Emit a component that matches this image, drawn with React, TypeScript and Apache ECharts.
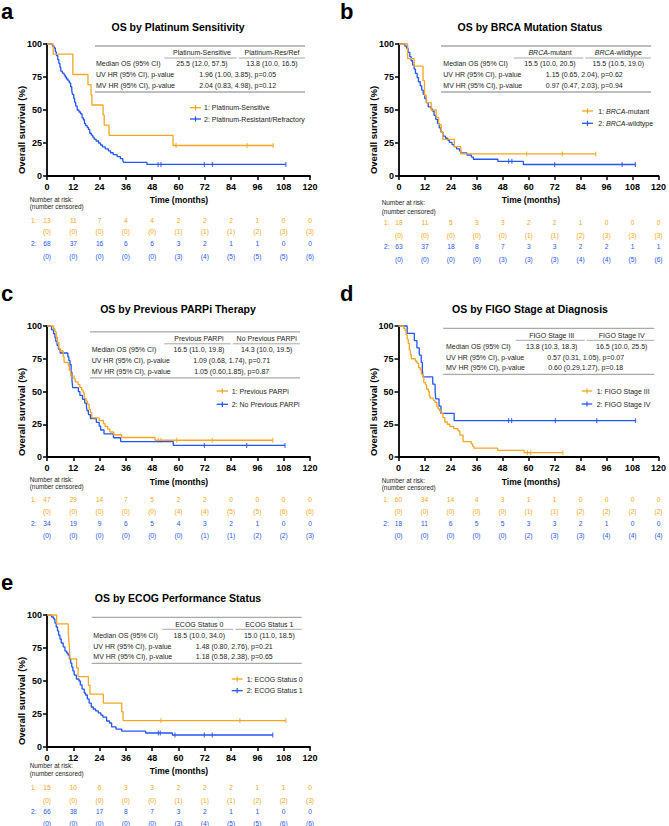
import React, { useEffect, useRef } from 'react';
import * as echarts from 'echarts';

const ORANGE = '#F6A623';
const BLUE = '#2356F6';
const FONT = "'Liberation Sans', Arial, Helvetica, sans-serif";
const TXT = '#1c1c1c';

type Step = [number, number];

const timeTicks = [0, 12, 24, 36, 48, 60, 72, 84, 96, 108, 120];
const rowLabels = ['Median OS (95% CI)', 'UV HR (95% CI), p-value', 'MV HR (95% CI), p-value'];

// ---------- Panel a ----------
const aTitle = 'OS by Platinum Sensitivity';
const aLegend = ['1: Platinum-Sensitive', '2: Platinum-Resistant/Refractory'];
const aHeaders = ['Platinum-Sensitive', 'Platinum-Res/Ref'];
const aMedian = ['25.5 (12.0, 57.5)', '13.8 (10.0, 16.5)'];
const aUV = '1.96 (1.00, 3.85), p=0.05';
const aMV = '2.04 (0.83, 4.98), p=0.12';
const aSteps1: Step[] = [[0, 100], [2.8, 92.3], [11.8, 76.9], [18.7, 69.2], [20.1, 61.5], [20.5, 53.8], [25.6, 46.2], [26.1, 38.5], [28.3, 30.8], [57.5, 23.1]];
const aEnd1 = 103.2;
const aCens1 = [58.9, 91.3, 103.2];
const aSteps2: Step[] = [[0, 100], [2.5, 98.5], [3.2, 97], [3.8, 94.1], [4.3, 91.2], [4.9, 88.2], [5.4, 85.3], [5.9, 82.4], [6.3, 79.4], [7, 77.9], [7.8, 76.5], [8.3, 75], [8.9, 73.5], [9.6, 72.1], [10.2, 70.6], [10.8, 67.6], [11.3, 64.7], [11.6, 61.8], [12.2, 58.8], [12.6, 55.9], [13.1, 52.9], [13.8, 50], [14.6, 48.5], [15.3, 47.1], [16, 44.1], [16.6, 42.6], [17.1, 39.7], [17.6, 38.2], [18.3, 36.8], [18.9, 35.3], [19.5, 32.4], [20.2, 30.9], [20.9, 29.4], [21.5, 27.9], [22.4, 26.5], [23.5, 25], [24.4, 23.5], [25.3, 22.1], [26.6, 20.6], [28, 19.1], [29, 17.6], [30.2, 16.2], [32, 14.7], [33.5, 13.2], [34.6, 11.8], [34.9, 10.3], [45.6, 8.8]];
const aEnd2 = 109;
const aCens2 = [50.7, 52, 71.8, 75.5, 109];
const aRisk1 = [13, 11, 7, 4, 4, 2, 2, 2, 1, 0, 0];
const aCensN1 = [0, 0, 0, 0, 0, 1, 1, 1, 2, 3, 3];
const aRisk2 = [68, 37, 16, 6, 6, 3, 2, 1, 1, 0, 0];
const aCensN2 = [0, 0, 0, 0, 0, 3, 4, 5, 5, 5, 6];

// ---------- Panel b ----------
const bTitle = 'OS by BRCA Mutation Status';
const bLegend = ['1: {i|BRCA}-mutant', '2: {i|BRCA}-wildtype'];
const bHeaders = ['{i|BRCA}-mutant', '{i|BRCA}-wildtype'];
const bMedian = ['15.5 (10.0, 20.5)', '15.5 (10.5, 19.0)'];
const bUV = '1.15 (0.65, 2.04), p=0.62';
const bMV = '0.97 (0.47, 2.03), p=0.94';
const bSteps1: Step[] = [[0, 100], [4, 88.9], [7, 83.3], [11.1, 72.2], [11.8, 61.1], [12.6, 55.6], [14.9, 50], [17.2, 44.4], [18.3, 38.9], [19.5, 33.3], [20.2, 27.8], [25.6, 22.2], [28.6, 16.7]];
const bEnd1 = 91;
const bCens1 = [59, 75.5, 91];
const bSteps2: Step[] = [[0, 100], [2.7, 98.4], [3.5, 96.8], [4.2, 93.7], [5, 90.5], [5.6, 87.3], [6.3, 84.1], [7, 81], [7.6, 77.8], [8.4, 74.6], [9, 71.4], [9.8, 68.3], [10.5, 65.1], [11.2, 61.9], [11.9, 58.7], [12.7, 55.6], [13.5, 52.4], [14.8, 50.8], [15.5, 49.2], [16.2, 46], [17, 42.9], [17.8, 39.7], [18.6, 36.5], [19.4, 33.3], [20.3, 30.2], [21.5, 28.6], [22.6, 27], [23.3, 25.4], [24.5, 23.8], [25.5, 22.2], [26.6, 20.6], [28, 19], [28.6, 17.5], [31.4, 15.9], [33.5, 14.3], [34.4, 12.7], [45.7, 11.1], [57.5, 8.7]];
const bEnd2 = 109.3;
const bCens2 = [50.7, 52.2, 72, 103.2, 109.3];
const bRisk1 = [18, 11, 5, 3, 3, 2, 2, 1, 0, 0, 0];
const bCensN1 = [0, 0, 0, 0, 0, 1, 1, 2, 3, 3, 3];
const bRisk2 = [63, 37, 18, 8, 7, 3, 3, 2, 2, 1, 1];
const bCensN2 = [0, 0, 0, 0, 3, 3, 3, 4, 4, 5, 6];

// ---------- Panel c ----------
const cTitle = 'OS by Previous PARPi Therapy';
const cLegend = ['1: Previous PARPi', '2: No Previous PARPi'];
const cHeaders = ['Previous PARPi', 'No Previous PARPi'];
const cMedian = ['16.5 (11.0, 19.8)', '14.3 (10.0, 19.5)'];
const cUV = '1.09 (0.68, 1.74), p=0.71';
const cMV = '1.05 (0.60,1.85), p=0.87';
const cSteps1: Step[] = [[0, 100], [3, 97.9], [3.6, 95.7], [4.2, 91.5], [4.8, 87.2], [5.4, 83], [6, 80.9], [7.4, 76.6], [7.8, 72.3], [9.7, 70.2], [10.2, 66], [10.8, 61.7], [12.4, 59.6], [12.9, 57.4], [14.2, 55.3], [15, 53.2], [15.8, 51.1], [16.5, 48.9], [17, 44.7], [17.8, 42.6], [18.5, 40.4], [19.2, 36.2], [19.8, 34], [20.4, 29.8], [23.8, 27.7], [25.7, 25.5], [26.5, 23.4], [27.6, 21.3], [28.7, 19.1], [30.5, 17], [34, 14.9], [49.3, 12.8]];
const cEnd1 = 103;
const cCens1 = [50.8, 52, 59.2, 75.4, 103];
const cSteps2: Step[] = [[0, 100], [2.1, 97.1], [3, 94.1], [3.6, 91.2], [4, 88.2], [4.6, 85.3], [5.2, 82.4], [6, 79.4], [9.5, 76.5], [10, 73.5], [10.5, 70.6], [11, 64.7], [11.4, 58.8], [11.7, 52.9], [14.3, 50], [15, 47.1], [16.2, 44.1], [17.2, 41.2], [18, 38.2], [18.3, 35.3], [18.9, 32.4], [19.8, 29.4], [22.5, 26.5], [23.8, 23.5], [24.5, 20.6], [26, 17.6], [30.3, 14.7], [33.6, 11.8], [57.6, 8.8]];
const cEnd2 = 108.6;
const cCens2 = [71.8, 91.1, 108.6];
const cRisk1 = [47, 29, 14, 7, 5, 2, 2, 0, 0, 0, 0];
const cCensN1 = [0, 0, 0, 0, 0, 4, 4, 5, 5, 6, 6];
const cRisk2 = [34, 19, 9, 6, 5, 4, 3, 2, 1, 0, 0];
const cCensN2 = [0, 0, 0, 0, 0, 0, 1, 1, 2, 2, 3];

// ---------- Panel d ----------
const dTitle = 'OS by FIGO Stage at Diagnosis';
const dLegend = ['1: FIGO Stage III', '2: FIGO Stage IV'];
const dHeaders = ['FIGO Stage III', 'FIGO Stage IV'];
const dMedian = ['13.8 (10.3, 18.3)', '16.5 (10.0, 25.5)'];
const dUV = '0.57 (0.31, 1.05), p=0.07';
const dMV = '0.60 (0.29,1.27), p=0.18';
const dSteps1: Step[] = [[0, 100], [2.4, 98.3], [3, 96.7], [3.5, 93.3], [4, 90], [4.5, 86.7], [5, 81.7], [5.5, 78.3], [5.9, 75], [7.8, 73.3], [8.5, 71.7], [9.3, 68.3], [10, 66.7], [10.5, 63.3], [11.1, 61.7], [11.7, 56.7], [12.5, 55], [13, 51.7], [13.8, 50], [14.2, 46.7], [14.6, 45], [16.1, 43.3], [16.8, 41.7], [17.7, 38.3], [18.3, 36.7], [19, 35], [19.9, 33.3], [20.5, 30], [21.4, 26.7], [22.5, 25], [23.7, 23.3], [25.5, 21.7], [27.5, 20], [28.3, 16.7], [29.8, 11.7], [33.6, 10], [34.2, 8.3], [34.8, 6.7], [45.8, 5], [58, 3.3]];
const dEnd1 = 75.9;
const dCens1 = [59.5, 61, 75.9];
const dSteps2: Step[] = [[0, 100], [4, 94.4], [7.3, 88.9], [8.5, 83.3], [9.6, 77.8], [10.5, 72.2], [11, 66.7], [11.3, 61.1], [15.8, 55.6], [16.9, 50], [17.2, 44.4], [18.7, 38.9], [19.6, 33.3], [25.7, 27.8]];
const dEnd2 = 109.4;
const dCens2 = [50.8, 52.2, 72.4, 91.5, 109.4];
const dRisk1 = [60, 34, 14, 4, 3, 1, 1, 0, 0, 0, 0];
const dCensN1 = [0, 0, 0, 0, 0, 1, 1, 2, 2, 2, 2];
const dRisk2 = [18, 11, 6, 5, 5, 3, 3, 2, 1, 0, 0];
const dCensN2 = [0, 0, 0, 0, 0, 2, 3, 3, 4, 4, 4];

// ---------- Panel e ----------
const eTitle = 'OS by ECOG Performance Status';
const eLegend = ['1: ECOG Status 0', '2: ECOG Status 1'];
const eHeaders = ['ECOG Status 0', 'ECOG Status 1'];
const eMedian = ['18.5 (10.0, 34.0)', '15.0 (11.0, 18.5)'];
const eUV = '1.48 (0.80, 2.76), p=0.21';
const eMV = '1.18 (0.58, 2.38), p=0.65';
const eSteps1: Step[] = [[0, 100], [4.4, 93.3], [9.7, 86.7], [10, 80], [10.3, 73.3], [10.5, 66.7], [13.5, 60], [14.2, 53.3], [18.9, 46.7], [19.6, 40], [25.7, 33.3], [34.1, 26.7], [34.7, 20]];
const eEnd1 = 109;
const eCens1 = [52, 88, 109];
const eSteps2: Step[] = [[0, 100], [2.1, 98.5], [3, 97], [3.6, 93.9], [4.2, 90.9], [4.8, 87.9], [5.3, 84.8], [5.9, 81.8], [6.5, 78.8], [7.4, 75.8], [8.2, 72.7], [9, 71.2], [9.6, 69.7], [10.2, 66.7], [10.8, 63.6], [11.3, 60.6], [11.8, 57.6], [12.4, 54.5], [13.4, 51.5], [14.6, 50], [15.2, 47], [16, 43.9], [17, 40.9], [17.6, 39.4], [18.4, 36.4], [19.2, 33.3], [20.2, 30.3], [21.1, 28.8], [22.2, 27.3], [23.4, 25.8], [24.6, 24.2], [25.5, 22.7], [27.2, 19.7], [28.5, 18.2], [29.5, 15.2], [31.5, 13.6], [34.1, 12.1], [45, 10.6], [57.2, 9.1]];
const eEnd2 = 103;
const eCens2 = [50.8, 51.7, 58.4, 71.8, 75.4, 103];
const eRisk1 = [15, 10, 6, 3, 3, 2, 2, 2, 1, 1, 0];
const eCensN1 = [0, 0, 0, 0, 0, 1, 1, 1, 2, 2, 3];
const eRisk2 = [66, 38, 17, 8, 7, 3, 2, 1, 1, 0, 0];
const eCensN2 = [0, 0, 0, 0, 0, 3, 4, 5, 5, 6, 6];

const PANELS = [
  { letter: 'a', title: aTitle, legend: aLegend, headers: aHeaders, median: aMedian, uv: aUV, mv: aMV, s1: aSteps1, e1: aEnd1, c1: aCens1, s2: aSteps2, e2: aEnd2, c2: aCens2, r1: aRisk1, n1: aCensN1, r2: aRisk2, n2: aCensN2 },
  { letter: 'b', title: bTitle, legend: bLegend, headers: bHeaders, median: bMedian, uv: bUV, mv: bMV, s1: bSteps1, e1: bEnd1, c1: bCens1, s2: bSteps2, e2: bEnd2, c2: bCens2, r1: bRisk1, n1: bCensN1, r2: bRisk2, n2: bCensN2 },
  { letter: 'c', title: cTitle, legend: cLegend, headers: cHeaders, median: cMedian, uv: cUV, mv: cMV, s1: cSteps1, e1: cEnd1, c1: cCens1, s2: cSteps2, e2: cEnd2, c2: cCens2, r1: cRisk1, n1: cCensN1, r2: cRisk2, n2: cCensN2 },
  { letter: 'd', title: dTitle, legend: dLegend, headers: dHeaders, median: dMedian, uv: dUV, mv: dMV, s1: dSteps1, e1: dEnd1, c1: dCens1, s2: dSteps2, e2: dEnd2, c2: dCens2, r1: dRisk1, n1: dCensN1, r2: dRisk2, n2: dCensN2 },
  { letter: 'e', title: eTitle, legend: eLegend, headers: eHeaders, median: eMedian, uv: eUV, mv: eMV, s1: eSteps1, e1: eEnd1, c1: eCens1, s2: eSteps2, e2: eEnd2, c2: eCens2, r1: eRisk1, n1: eCensN1, r2: eRisk2, n2: eCensN2 },
];

// layout (positions only)
const LAYOUTS = [
  { ox: 0, oy: 0, lx: 1, gh: 132, gx: 47, tab: { x0: 95, x1: 305, lx: 96, c1: 202, c2: 272, cc: 237.7, top: 46 }, leg: { x0: 190, x1: 201, tx: 204, y1: 107.7, y2: 119 }, risk: { lx: 31, rows: [220, 231.3, 243.7, 256], nar: [199, 206.7] } },
  { ox: 352, oy: 0, lx: -12, gh: 132, gx: 47, tab: { x0: 89, x1: 299, lx: 91.3, c1: 198, c2: 266.3, cc: 232.3, top: 46 }, leg: { x0: 230, x1: 241, tx: 246.3, y1: 111, y2: 123.3 }, risk: { lx: 32, rows: [222.7, 235, 246.7, 259], nar: [202.7, 211] } },
  { ox: 0, oy: 282, lx: 1, gh: 131, gx: 47, tab: { x0: 90, x1: 300, lx: 91.7, c1: 199, c2: 266.7, cc: 231.7, top: 49.8 }, leg: { x0: 216.7, x1: 228, tx: 231.7, y1: 109, y2: 122.3 }, risk: { lx: 31, rows: [217.3, 229.7, 241.3, 253.3], nar: [197, 204.7] } },
  { ox: 352, oy: 282, lx: -12, gh: 131, gx: 46.5, tab: { x0: 91.3, x1: 302.3, lx: 94, c1: 199.7, c2: 269.7, cc: 233.7, top: 46.3 }, leg: { x0: 229.7, x1: 240.3, tx: 244.7, y1: 109, y2: 122 }, risk: { lx: 31.3, rows: [217.3, 229.7, 241.3, 253.3], nar: [198, 205.3] } },
  { ox: 0, oy: 571, lx: 1, gh: 132, gx: 47, tab: { x0: 91.7, x1: 301.7, lx: 93.3, c1: 199.3, c2: 269.3, cc: 234.3, top: 46.3 }, leg: { x0: 231.7, x1: 242.7, tx: 246.7, y1: 108, y2: 119.7 }, risk: { lx: 31, rows: [216, 229, 240, 252], nar: [194, 202.3] } },
];

function levelAt(steps: Step[], t: number) {
  let s = 100;
  for (const [tt, v] of steps) if (tt <= t) s = v;
  return s;
}

function lineData(steps: Step[], end: number) {
  const d = steps.map((p) => [p[0], p[1]]);
  d.push([end, steps[steps.length - 1][1]]);
  return d;
}

function txt(x: number, y: number, text: string, o: any = {}) {
  const fs = o.fontSize || 7;
  const fill = o.fill || TXT;
  return {
    type: 'text',
    x,
    y,
    silent: true,
    rotation: o.rotation || 0,
    style: {
      text,
      fill,
      fontFamily: FONT,
      fontSize: fs,
      fontWeight: o.fontWeight || 'normal',
      align: o.align || 'center',
      verticalAlign: o.vAlign || 'middle',
      rich: o.rich ? { i: { fontStyle: 'italic', fontFamily: FONT, fontSize: fs, fill } } : undefined,
    },
  };
}

function ln(x1: number, y1: number, x2: number, y2: number, stroke: string, w: number) {
  return { type: 'line', silent: true, shape: { x1, y1, x2, y2 }, style: { stroke, lineWidth: w } };
}

function buildOption() {
  const grid: any[] = [];
  const xAxis: any[] = [];
  const yAxis: any[] = [];
  const series: any[] = [];
  PANELS.forEach((p, k) => {
    const L = LAYOUTS[k];
    grid.push({ left: L.ox + L.gx, top: L.oy + 44, width: 263, height: L.gh, containLabel: false });
    xAxis.push({
      gridIndex: k, type: 'value', min: 0, max: 120, interval: 12,
      axisLine: { show: true, onZero: false, lineStyle: { color: '#000', width: 1.8 } },
      axisTick: { show: true, length: 4, lineStyle: { color: '#000', width: 1.5 } },
      axisLabel: { color: '#000', fontWeight: 'bold', fontSize: 9, fontFamily: FONT, margin: 6 },
      splitLine: { show: false },
    });
    yAxis.push({
      gridIndex: k, type: 'value', min: 0, max: 100, interval: 25,
      axisLine: { show: true, lineStyle: { color: '#000', width: 1.8 } },
      axisTick: { show: true, length: 4, lineStyle: { color: '#000', width: 1.5 } },
      axisLabel: { color: '#000', fontWeight: 'bold', fontSize: 9, fontFamily: FONT, margin: 5 },
      splitLine: { show: false },
    });
    const curves = [
      { steps: p.s2, end: p.e2, cens: p.c2, color: BLUE, name: p.letter + '2' },
      { steps: p.s1, end: p.e1, cens: p.c1, color: ORANGE, name: p.letter + '1' },
    ];
    curves.forEach((c) => {
      series.push({
        type: 'line', name: c.name, xAxisIndex: k, yAxisIndex: k, step: 'end',
        data: lineData(c.steps, c.end), symbol: 'none', clip: false, silent: true,
        lineStyle: { color: c.color, width: 1.3 },
      });
      series.push({
        type: 'scatter', name: c.name + 'c', xAxisIndex: k, yAxisIndex: k,
        data: c.cens.map((t) => [t, levelAt(c.steps, t)]),
        symbol: 'rect', symbolSize: [1.2, 5], silent: true, clip: false,
        itemStyle: { color: c.color },
      });
    });
  });
  return { animation: false, backgroundColor: '#fff', grid, xAxis, yAxis, series };
}

function buildGraphics(chart: any) {
  const g: any[] = [];
  PANELS.forEach((p, k) => {
    const L = LAYOUTS[k];
    const X = (v: number) => L.ox + v;
    const Y = (v: number) => L.oy + v;
    g.push(txt(X(L.lx), Y(0), p.letter, { fontSize: 22, fontWeight: 'bold', align: 'left', vAlign: 'top', fill: '#000' }));
    g.push(txt(X(178), Y(27), p.title, { fontSize: 10.5, fontWeight: 'bold', fill: '#000' }));
    g.push(txt(X(21), Y(130), 'Overall survival (%)', { fontSize: 9.5, fontWeight: 'bold', rotation: Math.PI / 2, fill: '#000' }));
    g.push(txt(X(179), Y(200), 'Time (months)', { fontSize: 8.5, fontWeight: 'bold', fill: '#000' }));

    // summary table
    const T = L.tab;
    const top = T.top;
    const gray = '#a9a9a9';
    g.push(ln(X(T.x0), Y(top), X(T.x1), Y(top), gray, 1.3));
    const u1 = T.c1 - (T.cc - T.c1) - 2;
    g.push(ln(X(u1), Y(top + 12), X(T.cc - 1), Y(top + 12), gray, 1));
    g.push(ln(X(T.cc + 1), Y(top + 12), X(T.x1), Y(top + 12), gray, 1));
    g.push(ln(X(T.x0), Y(top + 46), X(T.x1), Y(top + 46), gray, 1.3));
    g.push(txt(X(T.c1), Y(top + 6.8), p.headers[0], { rich: true }));
    g.push(txt(X(T.c2), Y(top + 6.8), p.headers[1], { rich: true }));
    const rowsY = [top + 17.8, top + 28.8, top + 39.5];
    rowLabels.forEach((r, i) => g.push(txt(X(T.lx), Y(rowsY[i]), r, { align: 'left' })));
    g.push(txt(X(T.c1), Y(rowsY[0]), p.median[0]));
    g.push(txt(X(T.c2), Y(rowsY[0]), p.median[1]));
    g.push(txt(X(T.cc), Y(rowsY[1]), p.uv));
    g.push(txt(X(T.cc), Y(rowsY[2]), p.mv));

    // legend
    const G = L.leg;
    [[G.y1, ORANGE, p.legend[0]], [G.y2, BLUE, p.legend[1]]].forEach(([yy, col, name]: any) => {
      g.push(ln(X(G.x0), Y(yy), X(G.x1), Y(yy), col, 1.3));
      const mx = (G.x0 + G.x1) / 2;
      g.push(ln(X(mx), Y(yy - 2.6), X(mx), Y(yy + 2.6), col, 1.2));
      g.push(txt(X(G.tx), Y(yy), name, { align: 'left', rich: true }));
    });

    // risk table
    const R = L.risk;
    g.push(txt(X(29.7), Y(R.nar[0]), 'Number at risk:', { align: 'left', fontSize: 6.4 }));
    g.push(txt(X(29.7), Y(R.nar[1]), '(number censored)', { align: 'left', fontSize: 6.4 }));
    g.push(txt(X(R.lx), Y(R.rows[0]), '1:', { align: 'left', fontSize: 6.6, fill: ORANGE }));
    g.push(txt(X(R.lx), Y(R.rows[2]), '2:', { align: 'left', fontSize: 6.6, fill: BLUE }));
    timeTicks.forEach((t, i) => {
      const px = chart.convertToPixel({ xAxisIndex: k }, t);
      g.push(txt(px, Y(R.rows[0]), String(p.r1[i]), { fontSize: 6.6, fill: ORANGE }));
      g.push(txt(px, Y(R.rows[1]), '(' + p.n1[i] + ')', { fontSize: 6.6, fill: ORANGE }));
      g.push(txt(px, Y(R.rows[2]), String(p.r2[i]), { fontSize: 6.6, fill: BLUE }));
      g.push(txt(px, Y(R.rows[3]), '(' + p.n2[i] + ')', { fontSize: 6.6, fill: BLUE }));
    });
  });
  return g;
}

export default function App() {
  const ref = useRef<HTMLDivElement>(null);
  useEffect(() => {
    document.body.style.margin = '0';
    if (!ref.current) return;
    const chart = echarts.init(ref.current, undefined, { renderer: 'svg' });
    chart.setOption(buildOption());
    chart.setOption({ graphic: buildGraphics(chart) });
    return () => chart.dispose();
  }, []);
  return <div ref={ref} style={{ width: 669, height: 826 }} />;
}
